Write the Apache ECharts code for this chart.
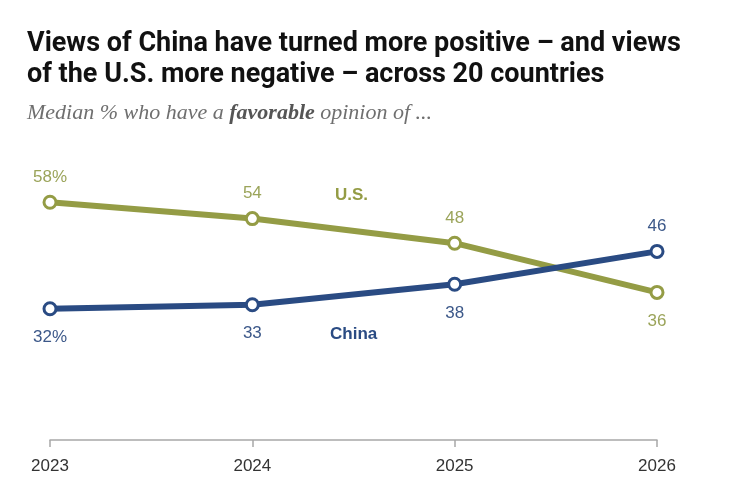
<!DOCTYPE html>
<html>
<head>
<meta charset="utf-8">
<script src="https://cdn.jsdelivr.net/npm/echarts@6/dist/echarts.min.js"></script>
<style>
  html, body { margin: 0; padding: 0; background: #fff; }
  #box1 { width: 737px; height: 497px; }
</style>
</head>
<body>
<div id="box1"></div>
<script>
// data
var years = ['2023', '2024', '2025', '2026'];
var usValues = [58, 54, 48, 36];
var chinaValues = [32, 33, 38, 46];
var usLabelPos = ['top', 'top', 'top', 'bottom'];
var chinaLabelPos = ['bottom', 'bottom', 'bottom', 'top'];

var usColor = '#949c45';
var usText = '#9ba45a';
var chinaColor = '#2a4b83';
var chinaText = '#3c5889';

var chart = echarts.init(document.getElementById('box1'));

function buildData(values, positions, color) {
  return values.map(function(v, i) {
    return {
      value: v,
      label: {
        position: positions[i],
        distance: positions[i] === 'top' ? 9 : 13,
        formatter: i === 0 ? v + '%' : String(v),
        color: color
      }
    };
  });
}

var option = {
  animation: false,
  title: {
    text: 'Views of China have turned more positive \u2013 and views\nof the U.S. more negative \u2013 across 20 countries',
    left: 22,
    top: 24,
    textStyle: {
      fontFamily: 'Roboto',
      fontWeight: 'bold',
      fontSize: 27,
      lineHeight: 31,
      color: '#111'
    },
    subtext: '{i|Median % who have a }{b|favorable}{i| opinion of ...}',
    itemGap: 11,
    subtextStyle: {
      rich: {
        i: { fontFamily: 'Liberation Serif', fontStyle: 'italic', fontSize: 22, color: '#6f6f6f' },
        b: { fontFamily: 'Liberation Serif', fontStyle: 'italic', fontWeight: 'bold', fontSize: 22, color: '#555' }
      }
    }
  },
  grid: {
    left: 50,
    right: 80,
    top: 194,
    bottom: 57
  },
  xAxis: {
    type: 'category',
    data: years,
    boundaryGap: false,
    axisLine: { lineStyle: { color: '#a8a8a8', width: 1.5 } },
    axisTick: { show: true, length: 7, lineStyle: { color: '#a8a8a8', width: 1.5 } },
    axisLabel: {
      color: '#333',
      fontFamily: 'Liberation Sans',
      fontSize: 17,
      margin: 18
    }
  },
  yAxis: {
    type: 'value',
    min: 0,
    max: 60,
    show: false,
    splitLine: { show: false }
  },
  series: [{
    name: 'U.S.',
    type: 'line',
    data: buildData(usValues, usLabelPos, usText),
    lineStyle: { color: usColor, width: 6 },
    itemStyle: { color: '#fff', borderColor: usColor, borderWidth: 3 },
    symbol: 'circle',
    symbolSize: 12,
    label: {
      show: true,
      fontFamily: 'Liberation Sans',
      fontSize: 17
    },
    z: 2
  }, {
    name: 'China',
    type: 'line',
    data: buildData(chinaValues, chinaLabelPos, chinaText),
    lineStyle: { color: chinaColor, width: 6 },
    itemStyle: { color: '#fff', borderColor: chinaColor, borderWidth: 3 },
    symbol: 'circle',
    symbolSize: 12,
    label: {
      show: true,
      fontFamily: 'Liberation Sans',
      fontSize: 17
    },
    z: 3
  }],
  graphic: [{
    type: 'text',
    left: 335,
    top: 187,
    style: {
      text: 'U.S.',
      fill: usColor,
      font: 'bold 17px "Liberation Sans"'
    }
  }, {
    type: 'text',
    left: 330,
    top: 326,
    style: {
      text: 'China',
      fill: chinaColor,
      font: 'bold 17px "Liberation Sans"'
    }
  }]
};

chart.setOption(option);
</script>
</body>
</html>
